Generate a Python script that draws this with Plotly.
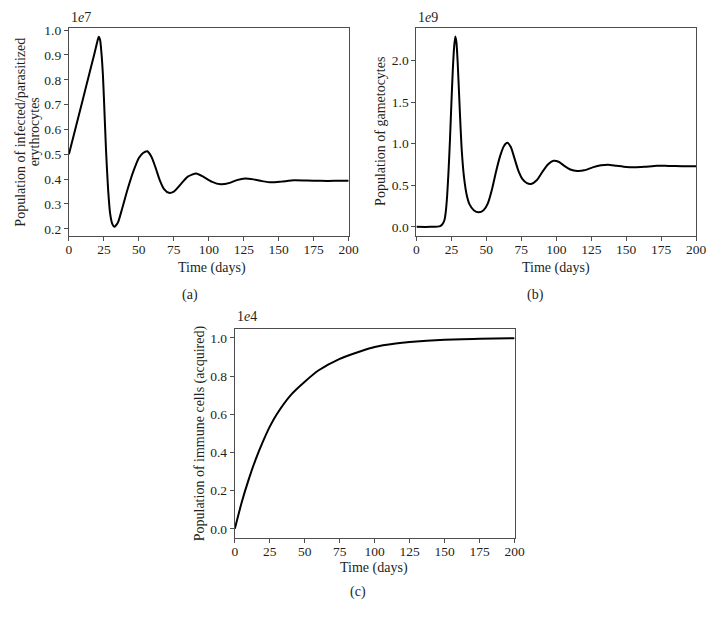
import plotly.graph_objects as go

# (a) infected/parasitized erythrocytes, values in units of 1e7
t_infected = [0, 5, 10, 15, 18, 19.5, 20.5, 21.3, 22.3, 23.3, 24.3, 25, 26.5, 28, 29.5, 31, 32.5,
              35, 38, 42, 46, 50, 53, 56, 59, 62, 65, 68, 71.5, 75, 80, 85, 91, 96, 102,
              108.5, 115, 120, 126, 132, 138, 145, 152, 161, 170, 180, 190, 200]
infected_1e7 = [0.50, 0.611, 0.722, 0.833, 0.90, 0.935, 0.958, 0.973, 0.96, 0.905, 0.82, 0.73, 0.52,
                0.36, 0.26, 0.22, 0.208, 0.225, 0.28, 0.36, 0.43, 0.485, 0.505, 0.512, 0.49,
                0.445, 0.395, 0.36, 0.345, 0.35, 0.38, 0.41, 0.423, 0.41, 0.39, 0.379, 0.385,
                0.396, 0.403, 0.399, 0.392, 0.387, 0.39, 0.395, 0.394, 0.393, 0.393, 0.393]

# (b) gametocytes, values in units of 1e9
t_gameto = [0, 10, 15, 17, 18.5, 20, 21, 22, 23, 24, 25, 26, 27, 27.8, 28.6, 29.5, 30.5, 31.5,
            32.5, 34, 36, 38, 41, 44.5, 48, 51, 54, 57, 60, 62.5, 65, 67.5, 70, 73, 76, 79,
            82, 86, 90, 94, 98, 102, 106, 110, 115, 120, 126, 132, 137, 143, 150, 156, 163,
            172, 180, 190, 200]
gameto_1e9 = [0.0, 0.0, 0.003, 0.01, 0.03, 0.08, 0.18, 0.38, 0.68, 1.05, 1.48, 1.88, 2.17, 2.29,
              2.22, 1.98, 1.6, 1.22, 0.9, 0.6, 0.38, 0.27, 0.2, 0.175, 0.2, 0.28, 0.45, 0.67,
              0.86, 0.97, 1.01, 0.96, 0.83, 0.67, 0.57, 0.525, 0.515, 0.56, 0.66, 0.75, 0.795,
              0.78, 0.73, 0.69, 0.672, 0.68, 0.715, 0.74, 0.748, 0.735, 0.72, 0.716, 0.722,
              0.735, 0.733, 0.73, 0.73]

# (c) acquired immune cells, values in units of 1e4
t_immune = [0, 5, 10, 15, 20, 25, 30, 40, 50, 60, 75, 90, 100, 115, 125, 150, 175, 200]
immune_1e4 = [0.0, 0.14, 0.26, 0.365, 0.455, 0.535, 0.60, 0.70, 0.77, 0.83, 0.89, 0.93, 0.952,
              0.97, 0.978, 0.99, 0.995, 0.998]

x_ticks = [0, 25, 50, 75, 100, 125, 150, 175, 200]

# page is 723x622 but the html body has an 8px margin, so the figure is shrunk to fit
PAGE_MARGIN = 8
W, H = 723 - 2 * PAGE_MARGIN, 622 - 2 * PAGE_MARGIN
FONT = "Liberation Serif"
TXT = "#231f20"
AX = "#4d4d4d"
FS = 14
TICK_FS = 13.5

# axes boxes in page pixels: (left, right, top, bottom)
boxes = {"a": (67, 352, 23, 233), "b": (421, 706, 23, 233), "c": (236, 521, 327, 538)}


def px(x):
    return (x - PAGE_MARGIN) / W


def py(y):
    return 1 - (y - PAGE_MARGIN) / H


fig = go.Figure()
series = [(t_infected, infected_1e7), (t_gameto, gameto_1e9), (t_immune, immune_1e4)]
for i, (t, v) in enumerate(series):
    sfx = "" if i == 0 else str(i + 1)
    fig.add_trace(go.Scatter(x=t, y=v, mode="lines", line=dict(color="black", width=2, shape="spline", smoothing=0.6),
                             xaxis="x" + sfx, yaxis="y" + sfx, showlegend=False, hoverinfo="skip"))

axis_style = dict(showline=True, mirror=True, linecolor=AX, linewidth=1, ticks="outside", ticklen=4,
                  tickcolor=AX, showgrid=False, zeroline=False,
                  tickfont=dict(family=FONT, size=TICK_FS, color=TXT))

y_specs = [
    ([0.172, 1.009], [0.2, 0.3, 0.4, 0.5, 0.6, 0.7, 0.8, 0.9, 1.0], ".1f"),
    ([-0.107, 2.393], [0.0, 0.5, 1.0, 1.5, 2.0], ".1f"),
    ([-0.047, 1.047], [0.0, 0.2, 0.4, 0.6, 0.8, 1.0], ".1f"),
]
layout = {}
for i, key in enumerate(["a", "b", "c"]):
    l, r, t, b = boxes[key]
    sfx = "" if i == 0 else str(i + 1)
    layout["xaxis" + sfx] = dict(axis_style, domain=[px(l), px(r)], range=[0, 200], tickvals=x_ticks,
                                 anchor="y" + sfx, ticklabelstandoff=-3)
    yr, yt, fmt = y_specs[i]
    layout["yaxis" + sfx] = dict(axis_style, domain=[py(b), py(t)], range=yr, tickvals=yt, tickformat=fmt,
                                 anchor="x" + sfx)

fig.update_layout(width=W, height=H, margin=dict(l=0, r=0, t=0, b=0), plot_bgcolor="white",
                  paper_bgcolor="white", font=dict(family=FONT, size=FS, color=TXT), **layout)

notes = [
    # (text, x, y, angle, xanchor)
    ("Time (days)", 213, 266, 0, "center"),
    ("(a)", 190, 293, 0, "center"),
    ("Time (days)", 563, 266, 0, "center"),
    ("(b)", 542, 293, 0, "center"),
    ("Time (days)", 378, 569, 0, "center"),
    ("(c)", 361, 593, 0, "center"),
    ("Population of infected/parasitized", 18, 128, -90, "center"),
    ("erythrocytes", 32, 128, -90, "center"),
    ("Population of gametocytes", 385, 128, -90, "center"),
    ("Population of immune cells (acquired)", 200, 432, -90, "center"),
    ("1<i>e</i>7", 67, 13, 0, "left"),
    ("1<i>e</i>9", 421, 13, 0, "left"),
    ("1<i>e</i>4", 236, 315, 0, "left"),
]
for text, x, y, ang, xa in notes:
    fig.add_annotation(text=text, x=px(x), y=py(y), xref="paper", yref="paper", showarrow=False,
                       textangle=ang, xanchor=xa, yanchor="middle",
                       font=dict(family=FONT, size=FS, color=TXT))

fig.write_html("out.html")
